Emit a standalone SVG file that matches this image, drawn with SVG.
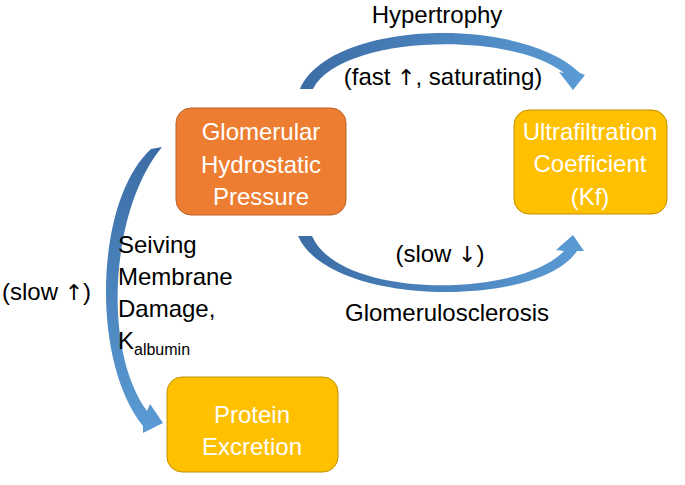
<svg xmlns="http://www.w3.org/2000/svg" width="685" height="485" viewBox="0 0 685 485">
<defs>
<linearGradient id="gH" x1="0" y1="0" x2="1" y2="0"><stop offset="0" stop-color="#3c6ca5"/><stop offset="1" stop-color="#5b9bd5"/></linearGradient>
<linearGradient id="gV" x1="0" y1="0" x2="0" y2="1"><stop offset="0" stop-color="#3c6ca5"/><stop offset="1" stop-color="#5b9bd5"/></linearGradient>
<style>
text{font-family:"Liberation Sans",Arial,sans-serif;font-size:24px;fill:#000}
.w{fill:#fff;text-anchor:middle}
.c{text-anchor:middle}
.arr{font-family:"DejaVu Sans",sans-serif;font-size:22px}
.orange{fill:#ed7d31;stroke:#b9622a;stroke-width:1}
.yellow{fill:#ffc000;stroke:#bf9000;stroke-width:1}
</style>
</defs>
<g id="connectors">
<path id="hypertrophy-arrow" fill="url(#gH)" d="M300,89 C330,20 520,15 580,73 L585,75 L573,90 L559,72 L564,73 C510,30 340,35 313,89 Z"/>
<path id="sclerosis-arrow" fill="url(#gH)" d="M298,236 C330,308 540,308 577,251 L584,251 L573,235 L556,250 L564,251 C520,298 340,300 312,236 Z"/>
<path id="protein-arrow" fill="url(#gV)" d="M162,147 C110,210 102,350 147,411 L150,404 L163,423 L143,433 L143,426 C90,360 95,200 151,149 Z"/>
</g>
<g id="glomerular">
<rect class="orange" x="176" y="108" width="170" height="107" rx="15"/>
<text class="w" x="261" y="140">Glomerular</text>
<text class="w" x="261" y="173">Hydrostatic</text>
<text class="w" x="261" y="205">Pressure</text>
</g>
<g id="ultrafiltration">
<rect class="yellow" x="514" y="110" width="153" height="104" rx="15"/>
<text class="w" x="590" y="140">Ultrafiltration</text>
<text class="w" x="590" y="172">Coefficient</text>
<text class="w" x="590" y="205">(Kf)</text>
</g>
<g id="protein">
<rect class="yellow" x="167" y="377" width="171" height="95" rx="15"/>
<text class="w" x="252" y="423">Protein</text>
<text class="w" x="252" y="455">Excretion</text>
</g>
<g id="labels">
<text class="c" x="437" y="23">Hypertrophy</text>
<text class="c" x="443" y="85">(fast <tspan class="arr">↑</tspan>, saturating)</text>
<text class="c" x="440" y="262">(slow <tspan class="arr">↓</tspan>)</text>
<text class="c" x="447" y="321">Glomerulosclerosis</text>
<text x="2" y="300">(slow <tspan class="arr">↑</tspan>)</text>
<text x="118" y="253">Seiving</text>
<text x="118" y="285">Membrane</text>
<text x="118" y="317">Damage,</text>
<text x="118" y="349">K<tspan font-size="16" dy="6">albumin</tspan></text>
</g>
</svg>
